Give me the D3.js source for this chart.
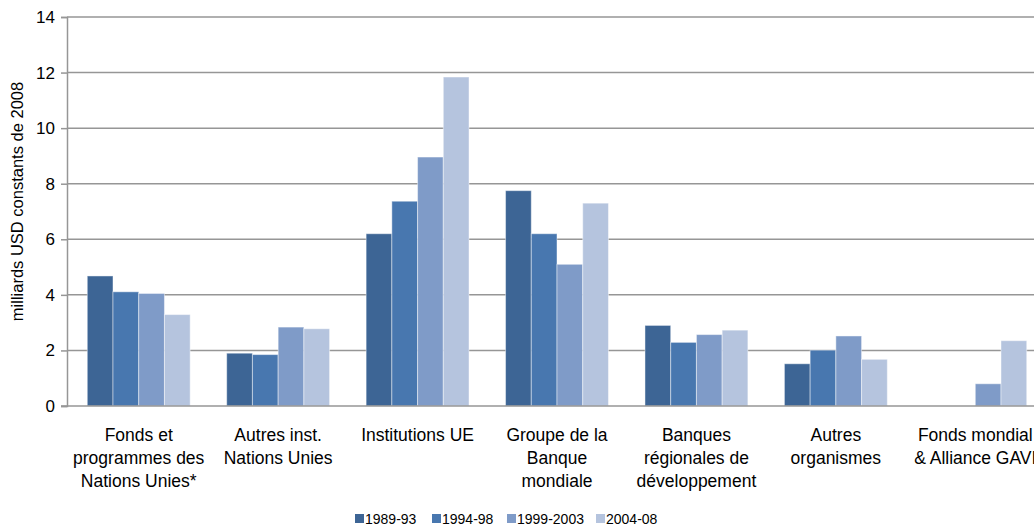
<!DOCTYPE html>
<html>
<head>
<meta charset="utf-8">
<script src="https://cdn.jsdelivr.net/npm/d3@7"></script>
<style>
  body { margin: 0; background: #fff; overflow: hidden; }
  text { font-family: "Liberation Sans Narrow", "Liberation Sans", sans-serif; fill: #000; }
</style>
</head>
<body>
<div id="chart"></div>
<script>
// data
var categories = ["Fonds et programmes des Nations Unies*", "Autres inst. Nations Unies", "Institutions UE",
  "Groupe de la Banque mondiale", "Banques régionales de développement", "Autres organismes", "Fonds mondial & Alliance GAVI"];
var categoryLines = [
  ["Fonds et", "programmes des", "Nations Unies*"],
  ["Autres inst.", "Nations Unies"],
  ["Institutions UE"],
  ["Groupe de la", "Banque", "mondiale"],
  ["Banques", "régionales de", "développement"],
  ["Autres", "organismes"],
  ["Fonds mondial", "& Alliance GAVI"]
];
var series = ["1989-93", "1994-98", "1999-2003", "2004-08"];
var v1989_93   = [4.68, 1.90, 6.20, 7.75, 2.90, 1.52, null];
var v1994_98   = [4.11, 1.85, 7.37, 6.20, 2.29, 2.01, null];
var v1999_2003 = [4.05, 2.84, 8.96, 5.10, 2.57, 2.52, 0.80];
var v2004_08   = [3.29, 2.78, 11.84, 7.30, 2.73, 1.68, 2.35];
var seriesValues = [v1989_93, v1994_98, v1999_2003, v2004_08];
var yTicks = [0, 2, 4, 6, 8, 10, 12, 14];
var colors = ["#3d6595", "#4877af", "#7f9bc8", "#b5c4de"];

var W = 1034, H = 526;
var margin = {top: 17, right: -9, bottom: 120, left: 67},
    width = W - margin.left - margin.right,
    height = H - margin.top - margin.bottom;

var svg = d3.select("#chart")
  .append("svg")
    .attr("width", W)
    .attr("height", H)
  .append("g")
    .attr("transform", "translate(" + margin.left + "," + margin.top + ")");

var x0 = d3.scaleBand()
  .domain(categories)
  .range([2, width + 2])
  .paddingInner(0.262)
  .paddingOuter(0.131);

var x1 = d3.scaleBand()
  .domain(series)
  .range([0, x0.bandwidth()]);

var y = d3.scaleLinear()
  .domain([0, 14])
  .range([height, 0]);

// gridlines
svg.append("g")
  .selectAll("line")
  .data(yTicks.slice(1))
  .enter()
  .append("line")
    .attr("x1", 0)
    .attr("x2", width)
    .attr("y1", function(d) { return y(d); })
    .attr("y2", function(d) { return y(d); })
    .attr("stroke", "#969696")
    .attr("stroke-width", 1.5);

// bars
var groups = svg.append("g")
  .selectAll("g")
  .data(categories)
  .enter()
  .append("g")
    .attr("transform", function(d) { return "translate(" + x0(d) + ",0)"; });

groups.selectAll("rect")
  .data(function(d, i) {
    return series.map(function(s, j) { return {s: s, j: j, v: seriesValues[j][i]}; });
  })
  .enter()
  .filter(function(d) { return d.v != null; })
  .append("rect")
    .attr("x", function(d) { return x1(d.s); })
    .attr("y", function(d) { return y(d.v); })
    .attr("width", x1.bandwidth())
    .attr("height", function(d) { return height - y(d.v); })
    .attr("fill", function(d) { return colors[d.j]; })
    .attr("stroke", "rgba(255,255,255,0.45)")
    .attr("stroke-width", 1);

// y axis
var yAxis = svg.append("g")
  .call(d3.axisLeft(y).tickValues(yTicks).tickSize(6).tickPadding(6));
yAxis.select(".domain").attr("stroke", "#969696").attr("stroke-width", 1.5);
yAxis.selectAll(".tick line").attr("stroke", "#969696").attr("stroke-width", 1.5);
yAxis.selectAll("text").style("font-size", "17px").style("fill", "#000");

// x axis line
svg.append("line")
  .attr("x1", -6)
  .attr("x2", width)
  .attr("y1", height)
  .attr("y2", height)
  .attr("stroke", "#969696")
  .attr("stroke-width", 1.5);

// category labels
svg.append("g")
  .selectAll("text")
  .data(categories)
  .enter()
  .append("text")
    .attr("x", function(d) { return x0(d) + x0.bandwidth() / 2; })
    .attr("y", height + 35)
    .attr("text-anchor", "middle")
    .style("font-size", "17.5px")
    .each(function(d, i) {
      var t = d3.select(this);
      categoryLines[i].forEach(function(line, k) {
        t.append("tspan")
          .attr("x", x0(d) + x0.bandwidth() / 2)
          .attr("dy", k === 0 ? 0 : 23)
          .text(line);
      });
    });

// y label
svg.append("text")
  .attr("transform", "rotate(-90)")
  .attr("x", -(height / 2) + 10)
  .attr("y", -44)
  .attr("text-anchor", "middle")
  .style("font-size", "16.5px")
  .text("milliards USD constants de 2008");

// legend
var legendX = [355, 432, 507, 596];
var legend = svg.append("g")
  .selectAll("g")
  .data(series)
  .enter()
  .append("g")
    .attr("transform", function(d, i) { return "translate(" + (legendX[i] - margin.left) + "," + (514 - margin.top) + ")"; });
legend.append("rect")
  .attr("width", 9)
  .attr("height", 9)
  .attr("fill", function(d, i) { return colors[i]; });
legend.append("text")
  .attr("x", 10)
  .attr("y", 10)
  .style("font-size", "14px")
  .text(function(d) { return d; });
</script>
</body>
</html>
